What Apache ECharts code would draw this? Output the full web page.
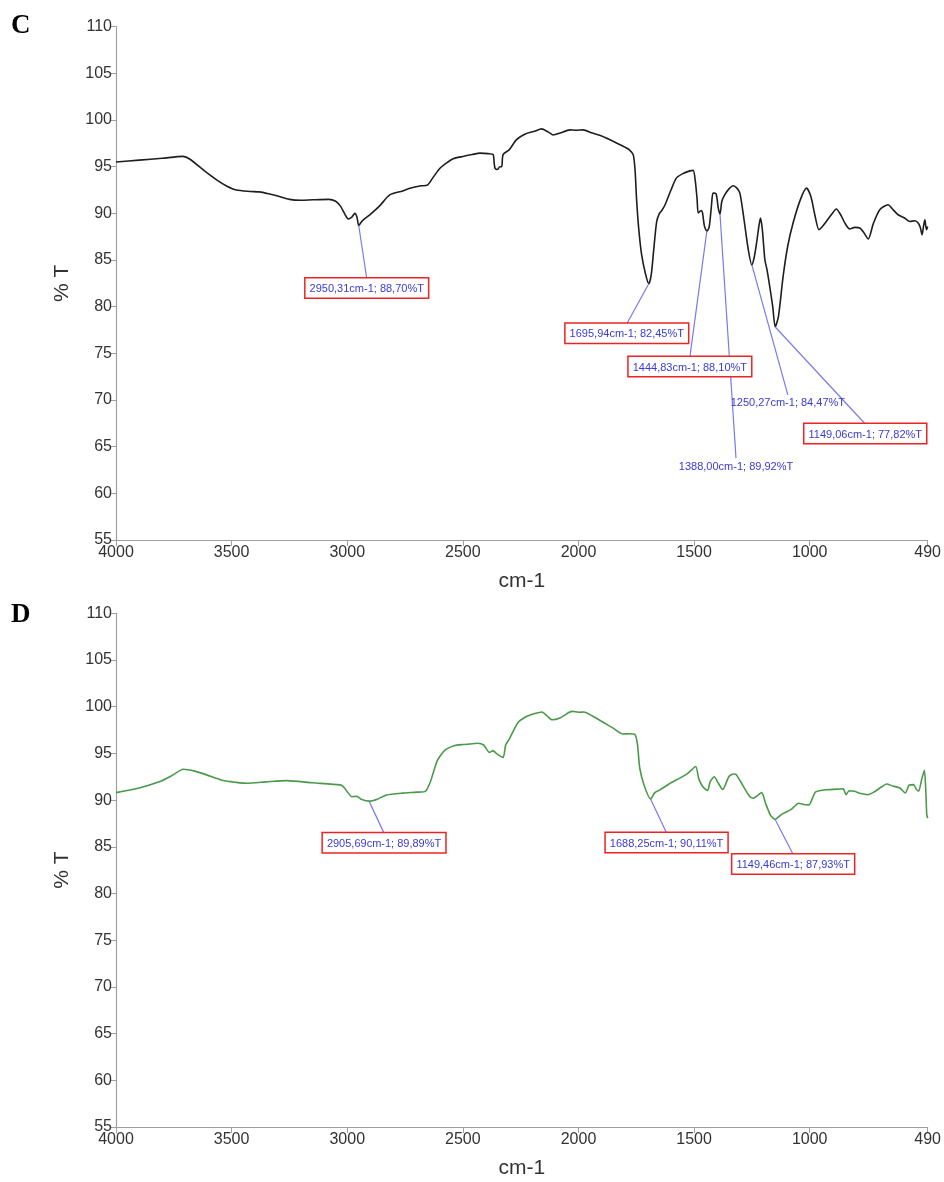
<!DOCTYPE html>
<html>
<head>
<meta charset="utf-8">
<title>FTIR spectra C and D</title>
<script src="https://cdn.jsdelivr.net/npm/echarts@6/dist/echarts.min.js"></script>
<style>
  html, body { margin: 0; padding: 0; background: #fff; }
  #chart { width: 944px; height: 1182px; }
</style>
</head>
<body>
<div id="chart"></div>
<script>
// Spectrum C: wavenumber (cm-1) and transmittance (%T)
const wnC = [4000, 3900, 3800, 3710, 3680, 3620, 3560, 3520, 3480, 3420, 3380, 3340, 3300, 3250, 3200, 3150, 3080, 3050, 3030, 3010, 2996, 2980, 2967, 2958, 2950.31, 2935, 2900, 2860, 2815, 2760, 2729, 2680, 2655, 2630, 2600, 2570, 2542, 2500, 2460, 2426, 2390, 2369, 2365, 2361, 2350, 2340, 2332, 2326, 2300, 2268, 2230, 2190, 2160, 2130, 2109, 2080, 2037, 2010, 1980, 1940, 1900, 1878, 1840, 1800, 1780, 1763, 1755, 1749, 1740, 1727, 1710, 1695.94, 1685, 1675, 1662, 1650, 1640, 1626, 1600, 1576, 1545, 1518, 1504, 1495, 1487, 1482, 1470, 1464, 1455, 1444.83, 1435, 1425, 1418, 1405, 1395, 1388.00, 1380, 1367, 1350, 1331, 1315, 1302, 1285, 1265, 1250.27, 1240, 1230, 1220, 1213, 1205, 1194, 1185, 1173, 1160, 1149.06, 1135, 1115, 1095, 1072, 1040, 1014, 995, 978, 960, 945, 928, 905, 885, 865, 848, 827, 805, 783, 765, 747, 725, 697, 661, 640, 618, 590, 567, 545, 531, 522, 514, 508, 502, 498, 495, 490];
const tC = [95.5, 95.7, 95.9, 96.1, 95.8, 94.6, 93.5, 92.9, 92.5, 92.35, 92.3, 92.1, 91.85, 91.5, 91.4, 91.45, 91.5, 91.3, 90.8, 89.9, 89.4, 89.6, 90.0, 89.6, 88.70, 89.2, 89.9, 90.8, 92.0, 92.4, 92.7, 92.95, 93.0, 93.8, 94.8, 95.4, 95.85, 96.1, 96.3, 96.45, 96.4, 96.3, 95.5, 94.85, 94.7, 95.0, 95.0, 96.3, 96.8, 97.9, 98.5, 98.8, 99.05, 98.7, 98.4, 98.6, 98.95, 98.9, 98.95, 98.6, 98.3, 98.05, 97.6, 97.1, 96.8, 96.27, 94.5, 91.6, 88.5, 85.57, 83.5, 82.45, 83.5, 86.0, 89.1, 90.0, 90.3, 90.9, 92.5, 93.8, 94.3, 94.55, 94.6, 93.5, 91.5, 90.03, 90.3, 90.1, 88.6, 88.10, 88.5, 90.8, 92.17, 92.1, 90.5, 89.92, 91.3, 92.0, 92.6, 92.95, 92.7, 92.17, 89.5, 86.0, 84.47, 85.3, 86.8, 88.6, 89.5, 88.3, 85.03, 84.0, 82.18, 80.0, 77.82, 79.0, 83.25, 86.5, 88.96, 91.5, 92.7, 91.8, 89.85, 88.25, 88.6, 89.13, 89.9, 90.46, 89.8, 88.96, 88.32, 88.5, 88.43, 87.9, 87.25, 88.9, 90.39, 90.92, 90.4, 89.85, 89.5, 89.13, 89.2, 88.96, 88.5, 87.7, 88.6, 89.3, 88.6, 88.25, 88.6];

// Spectrum D
const wnD = [4000, 3900, 3810, 3760, 3709, 3660, 3608, 3536, 3480, 3435, 3350, 3262, 3150, 3032, 3017, 3000, 2981, 2959, 2940, 2905.69, 2870, 2830, 2760, 2700, 2662, 2640, 2611, 2580, 2538, 2500, 2470, 2436, 2410, 2385, 2370, 2355, 2326, 2315, 2300, 2260, 2220, 2158, 2135, 2115, 2080, 2040, 2027, 2000, 1976, 1940, 1895, 1850, 1808, 1780, 1756, 1745, 1735, 1715, 1688.25, 1670, 1647, 1610, 1574, 1530, 1493, 1480, 1464, 1442, 1430, 1413, 1395, 1376, 1350, 1331, 1318, 1290, 1260, 1245, 1208, 1190, 1170, 1149.46, 1120, 1080, 1048, 1020, 1003, 985, 975, 930, 872, 855, 843, 830, 806, 780, 748, 720, 690, 668, 640, 610, 587, 570, 551, 540, 529, 515, 504, 498, 494, 490];
const tD = [90.8, 91.3, 91.98, 92.6, 93.3, 93.1, 92.7, 92.09, 91.9, 91.8, 91.95, 92.09, 91.85, 91.63, 91.45, 90.9, 90.37, 90.4, 90.1, 89.89, 90.1, 90.55, 90.75, 90.85, 90.94, 92.0, 94.2, 95.3, 95.82, 95.95, 96.0, 96.08, 95.9, 95.1, 95.3, 95.0, 94.56, 95.9, 96.5, 98.36, 99.0, 99.44, 99.0, 98.6, 98.8, 99.4, 99.5, 99.4, 99.44, 99.0, 98.36, 97.7, 97.08, 97.1, 97.02, 96.0, 93.41, 91.5, 90.11, 90.8, 91.1, 91.7, 92.2, 92.8, 93.6, 92.3, 91.49, 91.02, 92.0, 92.5, 91.8, 91.13, 92.5, 92.8, 92.75, 91.6, 90.4, 90.2, 90.8, 89.6, 88.4, 87.93, 88.5, 89.0, 89.67, 89.5, 89.49, 90.4, 90.87, 91.1, 91.19, 91.2, 90.58, 91.0, 90.94, 90.7, 90.58, 90.9, 91.4, 91.73, 91.5, 91.3, 90.76, 91.6, 91.66, 91.2, 90.94, 92.3, 93.18, 91.0, 88.5, 88.05];

// Annotated bands
const peakWnC = [2950.31, 1695.94, 1444.83, 1388.00, 1250.27, 1149.06];
const peakTC = [88.70, 82.45, 88.10, 89.92, 84.47, 77.82];
const peakWnD = [2905.69, 1688.25, 1149.46];
const peakTD = [89.89, 90.11, 87.93];

// Axis ticks
const xTicks = [4000, 3500, 3000, 2500, 2000, 1500, 1000, 490];
const yTicks = [55, 60, 65, 70, 75, 80, 85, 90, 95, 100, 105, 110];

// Callout placement: pixel offset from the band to the label's top centre, and framed or not
const calloutC = [
  { dx: 8, dy: 53, boxed: true },
  { dx: -22, dy: 40, boxed: true },
  { dx: -17, dy: 126, boxed: true },
  { dx: 16, dy: 244, boxed: false },
  { dx: 36, dy: 130, boxed: false },
  { dx: 90, dy: 97, boxed: true }
];
const calloutD = [
  { dx: 15, dy: 32, boxed: true },
  { dx: 16, dy: 34, boxed: true },
  { dx: 18, dy: 35, boxed: true }
];

const FONT = '"Liberation Sans Narrow", "Liberation Sans", Arial, sans-serif';
const fmt = v => v.toFixed(2).replace('.', ',');

function zip(a, b) { return a.map((v, i) => [v, b[i]]); }

function calloutSeries(idx, wns, ts, place) {
  return {
    type: 'custom',
    xAxisIndex: idx,
    yAxisIndex: idx,
    clip: false,
    silent: true,
    z: 5,
    data: wns.map((w, i) => [w, ts[i], i]),
    renderItem: function (params, api) {
      const p = api.coord([api.value(0), api.value(1)]);
      const o = place[api.value(2)];
      const ex = p[0] + o.dx, ey = p[1] + o.dy;
      const text = fmt(api.value(0)) + 'cm-1; ' + fmt(api.value(1)) + '%T';
      const style = {
        text: text,
        x: ex,
        y: ey,
        align: 'center',
        verticalAlign: 'top',
        fill: '#3a3ad6',
        font: '11px ' + FONT
      };
      if (o.boxed) {
        style.borderColor = '#ee2222';
        style.borderWidth = 1.5;
        style.backgroundColor = '#ffffff';
        style.padding = [5, 4, 3, 4];
      } else {
        style.padding = [3, 0, 0, 0];
      }
      return {
        type: 'group',
        children: [
          {
            type: 'line',
            shape: { x1: p[0], y1: p[1], x2: ex, y2: ey },
            style: { stroke: '#7b7be6', lineWidth: 1.2 }
          },
          { type: 'text', style: style, z2: 10 }
        ]
      };
    }
  };
}

function makeX(idx) {
  return {
    type: 'value',
    gridIndex: idx,
    inverse: true,
    min: 490,
    max: 4000,
    name: 'cm-1',
    nameLocation: 'middle',
    nameGap: 31,
    nameTextStyle: { fontSize: 21, color: '#333', fontFamily: FONT },
    splitLine: { show: false },
    axisLine: { onZero: false, lineStyle: { color: '#a0a0a0', width: 1.2 } },
    axisTick: { show: true, length: 6, lineStyle: { color: '#a0a0a0' }, customValues: xTicks },
    axisLabel: {
      fontSize: 16, color: '#333', fontFamily: FONT, margin: 5,
      customValues: xTicks, formatter: v => String(v)
    }
  };
}

function makeY(idx) {
  return {
    type: 'value',
    gridIndex: idx,
    min: 55,
    max: 110,
    interval: 5,
    name: '% T',
    nameLocation: 'middle',
    nameGap: 43,
    nameRotate: 90,
    nameTextStyle: { fontSize: 21, color: '#333', fontFamily: FONT },
    splitLine: { show: false },
    axisLine: { show: true, lineStyle: { color: '#a0a0a0', width: 1.2 } },
    axisTick: { show: true, length: 5, lineStyle: { color: '#a0a0a0' }, customValues: yTicks },
    axisLabel: { fontSize: 16, color: '#333', fontFamily: FONT, margin: 4, customValues: yTicks, formatter: v => String(v) }
  };
}

const chart = echarts.init(document.getElementById('chart'), null, { renderer: 'canvas' });
chart.setOption({
  backgroundColor: '#ffffff',
  animation: false,
  grid: [
    { left: 116, top: 26.7, width: 812, height: 513.3 },
    { left: 116, top: 613.3, width: 812, height: 513.7 }
  ],
  xAxis: [makeX(0), makeX(1)],
  yAxis: [makeY(0), makeY(1)],
  graphic: [
    { type: 'text', left: 11, top: 13, style: { text: 'C', font: 'bold 27px "Liberation Serif", "Times New Roman", serif', fill: '#000' } },
    { type: 'text', left: 11, top: 602, style: { text: 'D', font: 'bold 27px "Liberation Serif", "Times New Roman", serif', fill: '#000' } }
  ],
  series: [
    {
      type: 'line',
      xAxisIndex: 0,
      yAxisIndex: 0,
      data: zip(wnC, tC),
      showSymbol: false,
      smooth: 0.25,
      lineStyle: { color: '#1e1e1e', width: 1.6 }
    },
    {
      type: 'line',
      xAxisIndex: 1,
      yAxisIndex: 1,
      data: zip(wnD, tD),
      showSymbol: false,
      smooth: 0.2,
      lineStyle: { color: '#4a9a4a', width: 1.6 }
    },
    calloutSeries(0, peakWnC, peakTC, calloutC),
    calloutSeries(1, peakWnD, peakTD, calloutD)
  ]
});
</script>
</body>
</html>
